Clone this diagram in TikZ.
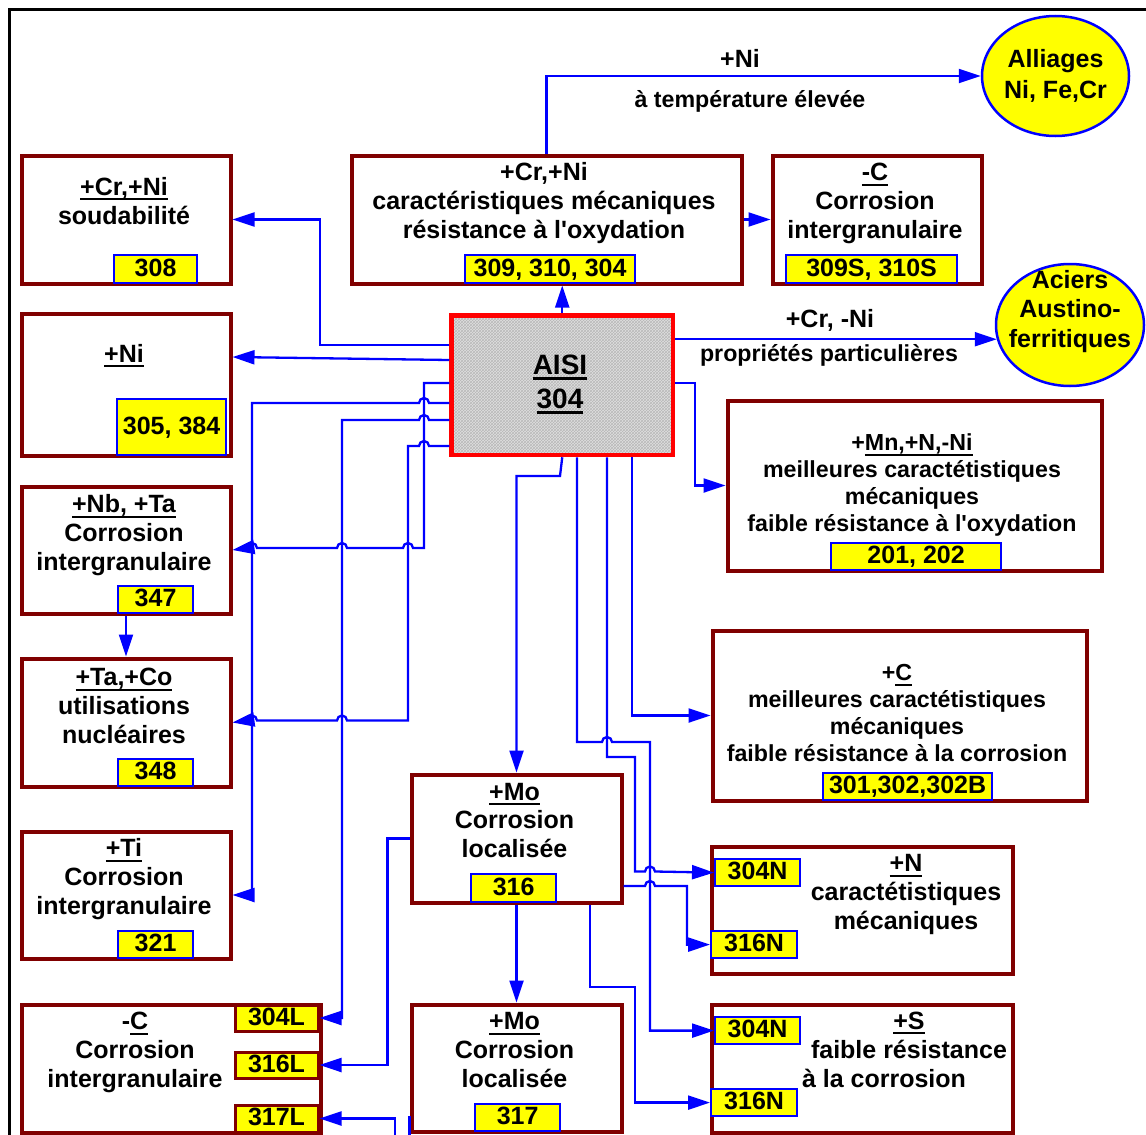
\documentclass[tikz,border=0pt]{standalone}
\usepackage{fontspec}
\setmainfont{Liberation Sans}
\usetikzlibrary{arrows.meta,shapes.geometric,patterns}
\definecolor{dred}{RGB}{128,0,0}
\definecolor{cblue}{RGB}{0,0,255}
\definecolor{cyel}{RGB}{255,255,0}
\newlength\ulxlen
\newcommand\ulx[1]{\settowidth{\ulxlen}{#1}\rlap{\rule[-0.2em]{\ulxlen}{0.08em}}#1}
\newcommand\apos{\XeTeXglyph\XeTeXcharglyph"0027\relax}
\newcommand\fmain{\fontsize{25}{28.7}\selectfont\bfseries}
\newcommand\fsml{\fontsize{23.2}{26.7}\selectfont\bfseries}
\newcommand\fbig{\fontsize{28}{34}\selectfont\bfseries}
\begin{document}
\begin{tikzpicture}[x=1pt,y=-1pt,
  box/.style={draw=dred, line width=4pt, fill=white, inner sep=0pt, anchor=north west},
  tag/.style={draw=cblue, fill=cyel, line width=2.2pt, inner sep=0pt, anchor=north west, font=\fmain, text height=18pt, text depth=4pt},
  rtag/.style={tag, draw=dred, line width=3pt},
  ell/.style={ellipse, draw=cblue, fill=cyel, line width=2.5pt, inner sep=0pt},
  txt/.style={font=\fmain, align=center, anchor=base, inner sep=0pt},
  stxt/.style={txt, font=\fsml},
  conn/.style={draw=cblue, line width=2.3pt},
  arr/.style={conn, -{Triangle[length=22pt,width=14pt]}}
]
\useasboundingbox (0,0) rectangle (1146,1135);
\clip (0,0) rectangle (1146,1135);
\fill[white] (0,0) rectangle (1146,1135);
\draw[line width=2.7pt] (9.5,1140) -- (9.5,9.5) -- (1150,9.5);

% boxes
\node[box, minimum width=209pt, minimum height=128pt] (soud) at (19.5,153.5) {};
\node[box, minimum width=390pt, minimum height=128pt] (crni) at (349.5,153.5) {};
\node[box, minimum width=209pt, minimum height=128pt] (mc) at (770.5,153.5) {};
\node[box, minimum width=209pt, minimum height=142pt] (ni) at (19.5,311.5) {};
\node[box, minimum width=209pt, minimum height=127pt] (nb) at (19.5,484.5) {};
\node[box, minimum width=209pt, minimum height=128pt] (taco) at (19.5,656.5) {};
\node[box, minimum width=209pt, minimum height=127pt] (ti) at (19.5,829.5) {};
\node[box, minimum width=299pt, minimum height=128pt] (cl) at (19.5,1002.5) {};
\node[box, minimum width=374pt, minimum height=170pt] (mn) at (725.5,398.5) {};
\node[box, minimum width=374pt, minimum height=170pt] (cc) at (710.5,628.5) {};
\node[box, minimum width=301pt, minimum height=127pt] (nn) at (709.5,844.5) {};
\node[box, minimum width=301pt, minimum height=128pt] (ss) at (709.5,1002.5) {};
\node[box, minimum width=210pt, minimum height=128pt] (mo6) at (409.5,772.5) {};
\node[box, minimum width=210pt, minimum height=127pt] (mo7) at (409.5,1002.5) {};
\node[box, draw=red, line width=4.5pt, preaction={fill=gray!25}, pattern=crosshatch, pattern color=gray!55,
      minimum width=221.5pt, minimum height=139.5pt] (aisi) at (449.25,313.25) {};

% ellipses
\node[ell, minimum width=147pt, minimum height=120pt] (alli) at (1055.5,76) {};
\node[ell, minimum width=148pt, minimum height=122pt] (aust) at (1070,325) {};

% tags
\node[tag, minimum width=83pt, minimum height=28pt] (t308) at (113,254) {308};
\node[tag, minimum width=170pt, minimum height=28pt] (t309) at (464,254) {309, 310, 304};
\node[tag, minimum width=171pt, minimum height=28pt] (t309s) at (785,254) {309S, 310S};
\node[tag, minimum width=109pt, minimum height=56pt] (t305) at (116,398) {305, 384};
\node[tag, minimum width=75pt, minimum height=27pt] (t347) at (117,585) {347};
\node[tag, minimum width=75pt, minimum height=27pt] (t348) at (117,758) {348};
\node[tag, minimum width=75pt, minimum height=27pt] (t321) at (117,930) {321};
\node[rtag, minimum width=83pt, minimum height=26pt] (t304L) at (233.5,1003.5) {304L};
\node[rtag, minimum width=83pt, minimum height=26pt] (t316L) at (233.5,1050.5) {316L};
\node[rtag, minimum width=83pt, minimum height=27pt] (t317L) at (233.5,1103.5) {317L};
\node[tag, minimum width=170pt, minimum height=27pt] (t201) at (830,542) {201, 202};
\node[tag, minimum width=169pt, minimum height=27pt] (t301) at (822,772) {301,302,302B};
\node[tag, minimum width=85pt, minimum height=27pt] (t304Na) at (714,858) {304N};
\node[tag, minimum width=86pt, minimum height=27pt] (t316Na) at (710,930) {316N};
\node[tag, minimum width=85pt, minimum height=27pt] (t304Nb) at (714,1016) {304N};
\node[tag, minimum width=86pt, minimum height=27pt] (t316Nb) at (710,1088) {316N};
\node[tag, minimum width=85pt, minimum height=28pt] (t316) at (470,873) {316};
\node[tag, minimum width=85pt, minimum height=27pt] (t317) at (474,1103) {317};

% texts (anchor base = baseline of the last line)
\node[txt] (soudT) at (124,224) {\ulx{+Cr,+Ni}\\soudabilité};
\node[txt] (crniT) at (544,238) {+Cr,+Ni\\caractéristiques mécaniques\\résistance à l\apos oxydation};
\node[txt] (mcT) at (875,238) {\ulx{-C}\\Corrosion\\intergranulaire};
\node[txt] (niT) at (124,362) {\ulx{+Ni}};
\node[txt] (nbT) at (124,570) {\ulx{+Nb, +Ta}\\Corrosion\\intergranulaire};
\node[txt] (tacoT) at (124,743) {\ulx{+Ta,+Co}\\utilisations\\nucléaires};
\node[txt] (tiT) at (124,914) {\ulx{+Ti}\\Corrosion\\intergranulaire};
\node[txt] (clT) at (135,1087) {-\ulx{C}\\Corrosion\\intergranulaire};
\node[txt] (mo6T) at (514.5,857.5) {\ulx{+Mo}\\Corrosion\\localisée};
\node[txt] (mo7T) at (514.5,1087) {\ulx{+Mo}\\Corrosion\\localisée};
\node[txt] (nnT) at (906,929) {\ulx{+N}\\caractétistiques\\mécaniques};
\node[txt] (ssT) at (909,1058) {\ulx{+S}\\faible résistance};
\node[txt] (ssT2) at (884,1087) {à la corrosion};
\node[stxt] (mnT) at (912,531) {+\ulx{Mn,+N,-Ni}\\meilleures caractétistiques\\mécaniques\\faible résistance à l\apos oxydation};
\node[stxt] (ccT) at (897,761) {+\ulx{C}\\meilleures caractétistiques\\mécaniques\\faible résistance à la corrosion};
\node[txt, font=\fbig] (aisiT) at (560,408) {\ulx{AISI}\\\ulx{304}};
\node[txt, font=\fontsize{25}{31}\selectfont\bfseries] (alliT) at (1055.5,98) {Alliages\\Ni, Fe,Cr};
\node[txt, font=\fontsize{25}{29.5}\selectfont\bfseries] (austT) at (1070,347) {Aciers\\Austino-\\ferritiques};
\node[txt] (lab1) at (740,67) {+Ni};
\node[stxt] (lab2) at (750,107) {à température élevée};
\node[txt] (lab3) at (830,327) {+Cr, -Ni};
\node[stxt] (lab4) at (829,361) {propriétés particulières};

% connectors
\draw[arr] (aisi.north) -- (aisi.north |- crni.south);
\draw[arr] (crni.north) |- (alli.west);
\draw[arr] (crni.east) -- (mc.west);
\draw[arr] (aisi.west |- 0,345) -- (320,345) |- (soud.east);
\draw[arr] (aisi.west |- 0,360) -- (ni.east |- 0,357);
\draw[arr] (aisi.west |- 0,383) -- (424,383) -- (424,548) -- (413,548)
   arc[start angle=0,end angle=180,radius=5pt] -- (347,548)
   arc[start angle=0,end angle=180,radius=5pt] -- (257,548)
   arc[start angle=0,end angle=180,radius=5pt] -- (nb.east);
\draw[arr] (aisi.west |- 0,403) -- (429,403)
   arc[start angle=0,end angle=180,radius=5pt] -- (252,403) |- (ti.east);
\draw[arr] (aisi.west |- 0,420) -- (429,420)
   arc[start angle=0,end angle=180,radius=5pt] -- (342,420) |- (t304L.east);
\draw[arr] (aisi.west |- 0,446) -- (429,446)
   arc[start angle=0,end angle=180,radius=5pt] -- (408,446) -- (408,720.5) -- (347,720.5)
   arc[start angle=0,end angle=180,radius=5pt] -- (257,720.5)
   arc[start angle=0,end angle=180,radius=5pt] -- (taco.east);
\draw[arr] (nb.south) -- (taco.north);
\draw[arr] (aisi.east |- aust.191) -- (aust.191);
\draw[arr] (aisi.east |- 0,383) -- (695,383) |- (mn.west);
\draw[arr] (aisi.south) -- (560,476) -| (mo6.north);
\draw[arr] (632,0 |- aisi.south) |- (cc.west);
\draw[arr] (577,0 |- aisi.south) -- (577,742) -- (602,742)
   arc[start angle=180,end angle=0,radius=5pt] -- (650,742) |- (t304Nb.west);
\draw[arr] (607,0 |- aisi.south) -- (607,757) -- (635,757) -- (635,871.5) -- (645,871.5)
   arc[start angle=180,end angle=0,radius=5pt] -- (t304Na.west);
\draw[arr] (mo6.east |- 0,886) -- (645,886)
   arc[start angle=180,end angle=0,radius=5pt] -- (687,886) |- (t316Na.west);
\draw[arr] (mo6.south) -- (mo7.north);
\draw[arr] (590,0 |- mo6.south) -- (590,987) -- (635,987) |- (t316Nb.west);
\draw[arr] (mo6.west) -- ++(-22,0) |- (t316L.east);
\draw[arr] (mo7.west |- 0,1116) -- (409.5,1160) -- (395,1160) |- (t317L.east);
\end{tikzpicture}
\end{document}
